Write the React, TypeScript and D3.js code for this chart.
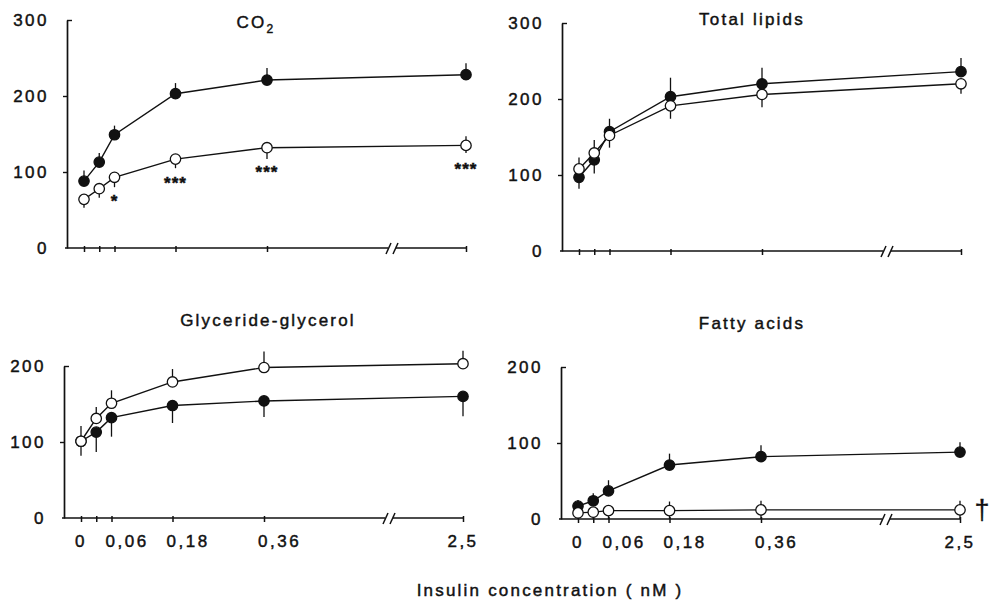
import React, { useEffect, useRef } from "react";
import * as d3 from "d3";

// insulin concentrations (nM)
const conc = [0, 0.03, 0.06, 0.18, 0.36, 2.5];
const xTickVals = [0, 0.06, 0.18, 0.36, 2.5];
const xTickLabels = ["0", "0,06", "0,18", "0,36", "2,5"];

// CO2
const co2Filled = [88, 113, 149, 203, 221, 228];
const co2FilledUp = [14, 12, 12, 14, 16, 15];
const co2Open = [64, 78, 93, 117, 132, 135];
const co2OpenUp = [0, 0, 0, 0, 0, 12];
const co2OpenDown = [11, 12, 13, 12, 15, 10];
const co2Stars = ["", "", "*", "***", "***", "***"];

// Total lipids
const lipFilled = [97, 120, 157, 203, 220, 236];
const lipFilledUp = [0, 0, 17, 25, 21, 18];
const lipFilledDown = [15, 18, 0, 0, 0, 0];
const lipOpen = [108, 129, 152, 191, 206, 220];
const lipOpenUp = [15, 17, 0, 0, 0, 0];
const lipOpenDown = [0, 0, 16, 17, 17, 13];

// Glyceride-glycerol
const glyFilled = [101, 113, 132, 148, 154, 160];
const glyFilledDown = [19, 26, 25, 23, 21, 26];
const glyOpen = [101, 131, 151, 179, 198, 203];
const glyOpenUp = [20, 15, 17, 17, 21, 17];

// Fatty acids
const faFilled = [17, 24, 37, 71, 82, 88];
const faFilledUp = [8, 10, 14, 15, 15, 13];
const faOpen = [8, 9, 11, 11, 12, 12];
const faOpenUp = [0, 0, 0, 12, 12, 12];
const faOpenDown = [8, 9, 11, 11, 12, 12];

const zeros = [0, 0, 0, 0, 0, 0];
const ink = "#111";
const FONT = "'Liberation Sans', Arial, Helvetica, sans-serif";

const panels = [
  {
    title: "CO", sub: "2", tx: 256, ty: 28, ax: 67, y0: 248, yTop: 20, yMax: 300, yTicks: [0, 100, 200, 300],
    filled: co2Filled, fUp: co2FilledUp, fDown: zeros,
    open: co2Open, oUp: co2OpenUp, oDown: co2OpenDown, stars: co2Stars, labels: false, dagger: false,
  },
  {
    title: "Total lipids", tx: 752, ty: 25, ax: 562, y0: 251, yTop: 23, yMax: 300, yTicks: [0, 100, 200, 300],
    filled: lipFilled, fUp: lipFilledUp, fDown: lipFilledDown,
    open: lipOpen, oUp: lipOpenUp, oDown: lipOpenDown, stars: null, labels: false, dagger: false,
  },
  {
    title: "Glyceride-glycerol", tx: 268, ty: 326, ax: 64, y0: 518, yTop: 366, yMax: 200, yTicks: [0, 100, 200],
    filled: glyFilled, fUp: zeros, fDown: glyFilledDown,
    open: glyOpen, oUp: glyOpenUp, oDown: zeros, stars: null, labels: true, dagger: false,
  },
  {
    title: "Fatty acids", tx: 752, ty: 329, ax: 561, y0: 519, yTop: 367, yMax: 200, yTicks: [0, 100, 200],
    filled: faFilled, fUp: faFilledUp, fDown: zeros,
    open: faOpen, oUp: faOpenUp, oDown: faOpenDown, stars: null, labels: true, dagger: true,
  },
];

// scanned print look: slightly heavier glyphs
const inkText = (sel, size, spacing) =>
  sel.attr("font-family", FONT).attr("font-size", size).attr("letter-spacing", spacing)
    .attr("fill", ink).attr("stroke", ink).attr("stroke-width", 0.45);

function drawPanel(g, p) {
  const x = d3.scaleLinear().domain([0, 0.36, 2.5]).range([p.ax + 17, p.ax + 200, p.ax + 399]);
  const y = d3.scaleLinear().domain([0, p.yMax]).range([p.y0, p.yTop]);
  const brk = p.ax + 324;

  // y axis
  const ya = g.append("g").attr("transform", `translate(${p.ax},0)`)
    .call(d3.axisLeft(y).tickValues(p.yTicks).tickSize(4).tickSizeOuter(0).tickPadding(14));
  ya.select(".domain").attr("stroke", ink).attr("stroke-width", 1.7);
  ya.selectAll(".tick line").attr("stroke", ink).attr("stroke-width", 1.4)
    .attr("x2", (d) => (d === p.yMax ? 5 : d === 0 ? 0 : -4));
  inkText(ya.selectAll(".tick text"), 17, 2.5);

  // x axis with break
  const xa = g.append("g").attr("transform", `translate(0,${p.y0})`)
    .call(d3.axisBottom(x).tickValues(conc).tickSize(4).tickFormat(() => ""));
  xa.select(".domain").remove();
  xa.selectAll(".tick line").attr("stroke", ink).attr("stroke-width", 1.5).attr("y1", -2);
  xa.append("line").attr("x1", p.ax - 2).attr("x2", brk - 3).attr("y1", 0).attr("y2", 0)
    .attr("stroke", ink).attr("stroke-width", 1.7);
  xa.append("line").attr("x1", brk + 5).attr("x2", x(2.5)).attr("y1", 0).attr("y2", 0)
    .attr("stroke", ink).attr("stroke-width", 1.7);
  [-1, 6].forEach((dx) => {
    xa.append("line").attr("x1", brk + dx - 4).attr("y1", 6).attr("x2", brk + dx + 1).attr("y2", -5)
      .attr("stroke", ink).attr("stroke-width", 1.5);
  });

  if (p.labels) {
    xTickVals.forEach((v, i) => {
      const lab = xTickLabels[i];
      const lead = lab.startsWith("0,");
      inkText(g.append("text"), 17, 2.5)
        .attr("x", lead ? x(v) - 6 : x(v)).attr("y", p.y0 + 29)
        .attr("text-anchor", lead ? "start" : "middle").text(lab);
    });
  }

  // title
  const t = inkText(g.append("text"), 17, 2.2).attr("x", p.tx).attr("y", p.ty).attr("text-anchor", "middle");
  t.append("tspan").text(p.title);
  if (p.sub) t.append("tspan").attr("font-size", 12).attr("dy", 5).text(p.sub);

  const line = d3.line().x((d) => x(d[0])).y((d) => y(d[1]));
  const series = [
    { vals: p.filled, up: p.fUp, down: p.fDown, fill: ink },
    { vals: p.open, up: p.oUp, down: p.oDown, fill: "#fff" },
  ];
  series.forEach((s) => {
    g.append("path").datum(conc.map((c, i) => [c, s.vals[i]]))
      .attr("d", line).attr("fill", "none").attr("stroke", ink).attr("stroke-width", 1.4);
  });
  series.forEach((s) => {
    g.append("g").selectAll("line").data(conc).join("line")
      .attr("x1", (d) => x(d)).attr("x2", (d) => x(d))
      .attr("y1", (d, i) => y(s.vals[i] + s.up[i]))
      .attr("y2", (d, i) => y(s.vals[i] - s.down[i]))
      .attr("stroke", ink).attr("stroke-width", 1.3);
  });
  series.forEach((s) => {
    g.append("g").selectAll("circle").data(conc).join("circle")
      .attr("cx", (d) => x(d)).attr("cy", (d, i) => y(s.vals[i]))
      .attr("r", 5.2).attr("fill", s.fill).attr("stroke", ink).attr("stroke-width", 1.3);
  });

  if (p.stars) {
    p.stars.forEach((st, i) => {
      if (!st) return;
      inkText(g.append("text"), 17, 1).attr("x", x(conc[i])).attr("y", y(p.open[i]) + 30)
        .attr("text-anchor", "middle").attr("font-weight", "bold").text(st);
    });
  }

  if (p.dagger) {
    inkText(g.append("text"), 27, 0).attr("x", x(2.5) + 22).attr("y", y(p.open[5]) + 9)
      .attr("text-anchor", "middle").attr("stroke-width", 0.3).text("\u2020");
  }
}

export default function App() {
  const ref = useRef(null);

  useEffect(() => {
    const svg = d3.select(ref.current);
    svg.selectAll("*").remove();
    svg.append("rect").attr("width", 991).attr("height", 602).attr("fill", "#fff");
    panels.forEach((p) => drawPanel(svg.append("g"), p));
    inkText(svg.append("text"), 17, 2.2).attr("x", 550).attr("y", 596).attr("text-anchor", "middle")
      .text("Insulin concentration ( nM )");
  }, []);

  return (
    <svg ref={ref} width={991} height={602}
      style={{ position: "absolute", left: 0, top: 0, display: "block" }} />
  );
}
